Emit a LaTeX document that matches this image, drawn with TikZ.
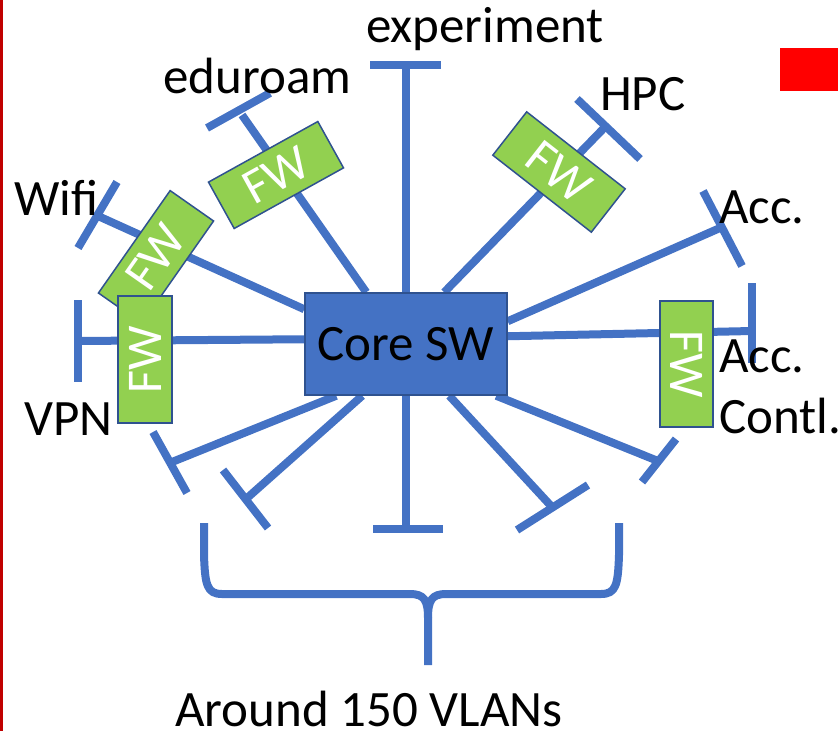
\documentclass[tikz,border=0pt]{standalone}
\usepackage{fontspec}
\setmainfont{Carlito}
\usetikzlibrary{calc}
\definecolor{vblue}{HTML}{4472C4}
\definecolor{vdark}{HTML}{2F528F}
\definecolor{vgreen}{HTML}{92D050}
\definecolor{vred}{HTML}{FF0000}
\definecolor{vdred}{HTML}{C00000}
\pgfdeclarelayer{bg}
\pgfsetlayers{bg,main}
\tikzset{
  link/.style={draw=vblue, line width=8pt},
  corebox/.style={draw=vdark, line width=1.5pt, fill=vblue, minimum width=202pt, minimum height=102pt, inner sep=0pt, font=\fontsize{51}{61}\selectfont},
  fwbox/.style={draw=vdark, line width=1.5pt, fill=vgreen, text=white, minimum width=125pt, minimum height=53pt, inner sep=0pt, font=\fontsize{50}{60}\selectfont},
  lbl/.style={anchor=base west, inner sep=0pt, font=\fontsize{51}{61}\selectfont}
}
\begin{document}
\begin{tikzpicture}[x=1pt,y=-1pt]
\useasboundingbox (0,0) rectangle (838,731);
% frame marks
\fill[vdred] (0,0) rectangle (2.5,731);
\fill[vred] (780,48) rectangle (838,91);
% core switch
\node[corebox] (core) at (406,344) {Core SW};
% firewalls
\node[fwbox, rotate=29] (fwedu) at (276,175) {FW};
\node[fwbox, rotate=55] (fwwifi) at (156,257) {FW};
\node[fwbox, rotate=-38, minimum height=55pt] (fwhpc) at (559,172) {FW};
\node[fwbox, rotate=90, minimum width=127pt, minimum height=54pt] (fwvpn) at (145,359.5) {FW};
\node[fwbox, rotate=-90, minimum width=126pt] (fwacc) at (686.5,364) {FW};
% end points
\coordinate (tExp) at (406,65);
\coordinate (tEdu) at (242,115);
\coordinate (tWifi) at (98,216);
\coordinate (tHpc) at (605,127);
\coordinate (tAcc) at (720,228);
\coordinate (tAccC) at (752,331);
\coordinate (tVpn) at (78,341);
\coordinate (tL1) at (172,462);
\coordinate (tL2) at (246,499);
\coordinate (tB) at (406,529);
\coordinate (tR1) at (552,507);
\coordinate (tR2) at (658,461);
\begin{pgfonlayer}{bg}
  \draw[link] (core.north) -- (tExp);
  \draw[link] ($(core.north west)+(62,0)$) -- (tEdu);
  \draw[link] ($(core.north west)+(0,17)$) -- (tWifi);
  \draw[link] ($(core.north west)+(140,0)$) -- (tHpc);
  \draw[link] ($(core.north east)+(0,29)$) -- (tAcc);
  \draw[link] ($(core.north east)+(0,44)$) -- (tAccC);
  \draw[link] ($(core.north west)+(0,47)$) -- (tVpn);
  \draw[link] ($(core.south west)+(32,0)$) -- (tL1);
  \draw[link] ($(core.south west)+(58,0)$) -- (tL2);
  \draw[link] (core.south) -- (tB);
  \draw[link] ($(core.south west)+(145,0)$) -- (tR1);
  \draw[link] ($(core.south west)+(192,0)$) -- (tR2);
  % T bars
  \draw[link] ($(tExp)+(-36,0)$) -- ($(tExp)+(35,0)$);
  \draw[link] (207,128) -- (270,93);
  \draw[link] (78,248) -- (117,182);
  \draw[link] (577,99) -- (640,159);
  \draw[link] (703,191) -- (742,266);
  \draw[link] (752,283) -- (752,363);
  \draw[link] (78,300) -- (78,382);
  \draw[link] (153,432) -- (187,493);
  \draw[link] (223,470) -- (268,528);
  \draw[link] (373,529) -- (443,529);
  \draw[link] (517,530) -- (588,485);
  \draw[link] (642,482) -- (676,439);
\end{pgfonlayer}
% brace
\draw[vblue, line width=8pt, line join=round]
  (204,523) -- (204,555) .. controls (205,585) and (207,594) .. (222,594)
  -- (410,594) .. controls (424,594) and (428,600) .. (428,618) -- (428,665);
\draw[vblue, line width=8pt, line join=round]
  (619,523) -- (619,555) .. controls (618,585) and (616,594) .. (601,594)
  -- (446,594) .. controls (432,594) and (428,600) .. (428,618);
% labels
\node[lbl, anchor=base] (lexp) at (485,42) {experiment};
\node[lbl] (ledu) at (163,93) {eduroam};
\node[lbl] (lwifi) at (14,215) {Wifi};
\node[lbl] (lhpc) at (600,110) {HPC};
\node[lbl] (lacc) at (719,223) {Acc.};
\node[lbl] (lacca) at (719,372) {Acc.};
\node[lbl] (laccb) at (719,433) {Contl.};
\node[lbl] (lvpn) at (24,435) {VPN};
\node[lbl, anchor=base] (lvlan) at (369,726) {Around 150 VLANs};
\end{tikzpicture}
\end{document}
